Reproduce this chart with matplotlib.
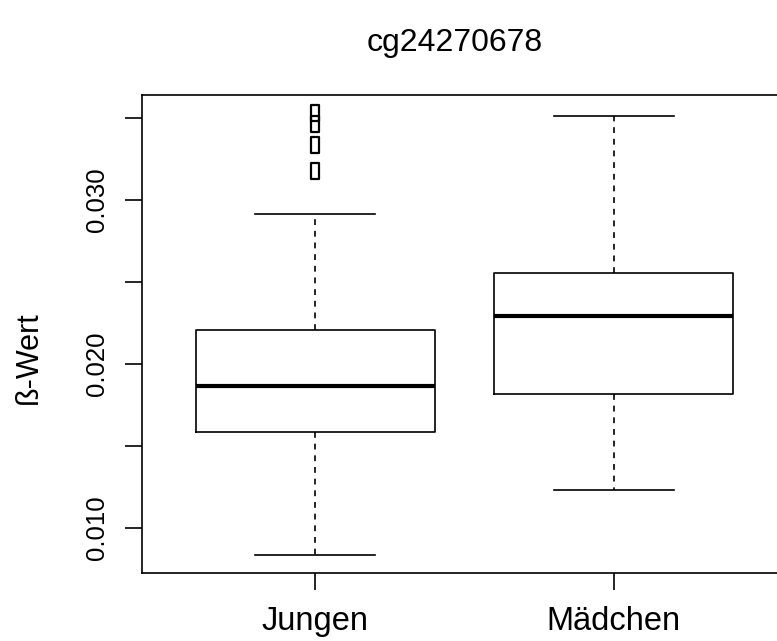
import numpy as np
import matplotlib
matplotlib.use("Agg")
import matplotlib.pyplot as plt
from matplotlib.path import Path

plt.rcParams['font.family'] = ['Liberation Sans', 'DejaVu Sans']

# values
groups = ["Jungen", "Mädchen"]
whislo = [0.00835, 0.01232]
q1 = [0.01585, 0.01817]
med = [0.01866, 0.02293]
q3 = [0.02207, 0.02555]
whishi = [0.02915, 0.03512]
fliers_jungen = [0.03177, 0.03335, 0.03463, 0.03530]
fliers_maedchen = []

yticks = [0.010, 0.015, 0.020, 0.025, 0.030, 0.035]
ytick_labels = ["0.010", "", "0.020", "", "0.030", ""]

stats = []
for i, g in enumerate(groups):
    stats.append(dict(label=g, whislo=whislo[i], q1=q1[i], med=med[i],
                      q3=q3[i], whishi=whishi[i],
                      fliers=[fliers_jungen, fliers_maedchen][i]))

W, H = 777, 641
fig = plt.figure(figsize=(W / 100, H / 100), dpi=100)
ax = fig.add_axes([142 / W, 1 - 573 / H, (787 - 142) / W, (573 - 95) / H])

# tall narrow open marker like the R output
rect = Path([(-0.25, -0.5), (0.25, -0.5), (0.25, 0.5), (-0.25, 0.5), (-0.25, -0.5)],
            [Path.MOVETO, Path.LINETO, Path.LINETO, Path.LINETO, Path.CLOSEPOLY])

lw = 1.2
ax.bxp(stats, positions=[1, 2], widths=0.8,
       boxprops=dict(color="black", linewidth=lw),
       medianprops=dict(color="black", linewidth=3.0, solid_capstyle="butt"),
       whiskerprops=dict(color="black", linewidth=lw, linestyle=(0, (3.5, 3.5))),
       capprops=dict(color="black", linewidth=lw),
       capwidths=0.4,
       flierprops=dict(marker=rect, markersize=12, markerfacecolor="none",
                       markeredgecolor="black", markeredgewidth=1.6))

ax.set_xlim(0.42, 2.58)
ax.set_ylim(0.00727, 0.03638)
ax.set_yticks(yticks)
ax.set_yticklabels(ytick_labels, rotation=90, va="center")
ax.set_xticks([1, 2])
ax.set_xticklabels(groups)
ax.tick_params(axis="y", length=12, width=lw, labelsize=18.5, pad=12)
ax.tick_params(axis="x", length=12, width=lw, labelsize=23.5, pad=12)
for s in ax.spines.values():
    s.set_linewidth(lw)

fig.text(455 / W, 1 - 43 / H, "cg24270678", ha="center", va="center", fontsize=23)
fig.text(29 / W, 1 - 358 / H, "ß-Wert", ha="center", va="center", rotation=90, fontsize=22)

fig.savefig("out.png", dpi=100)
